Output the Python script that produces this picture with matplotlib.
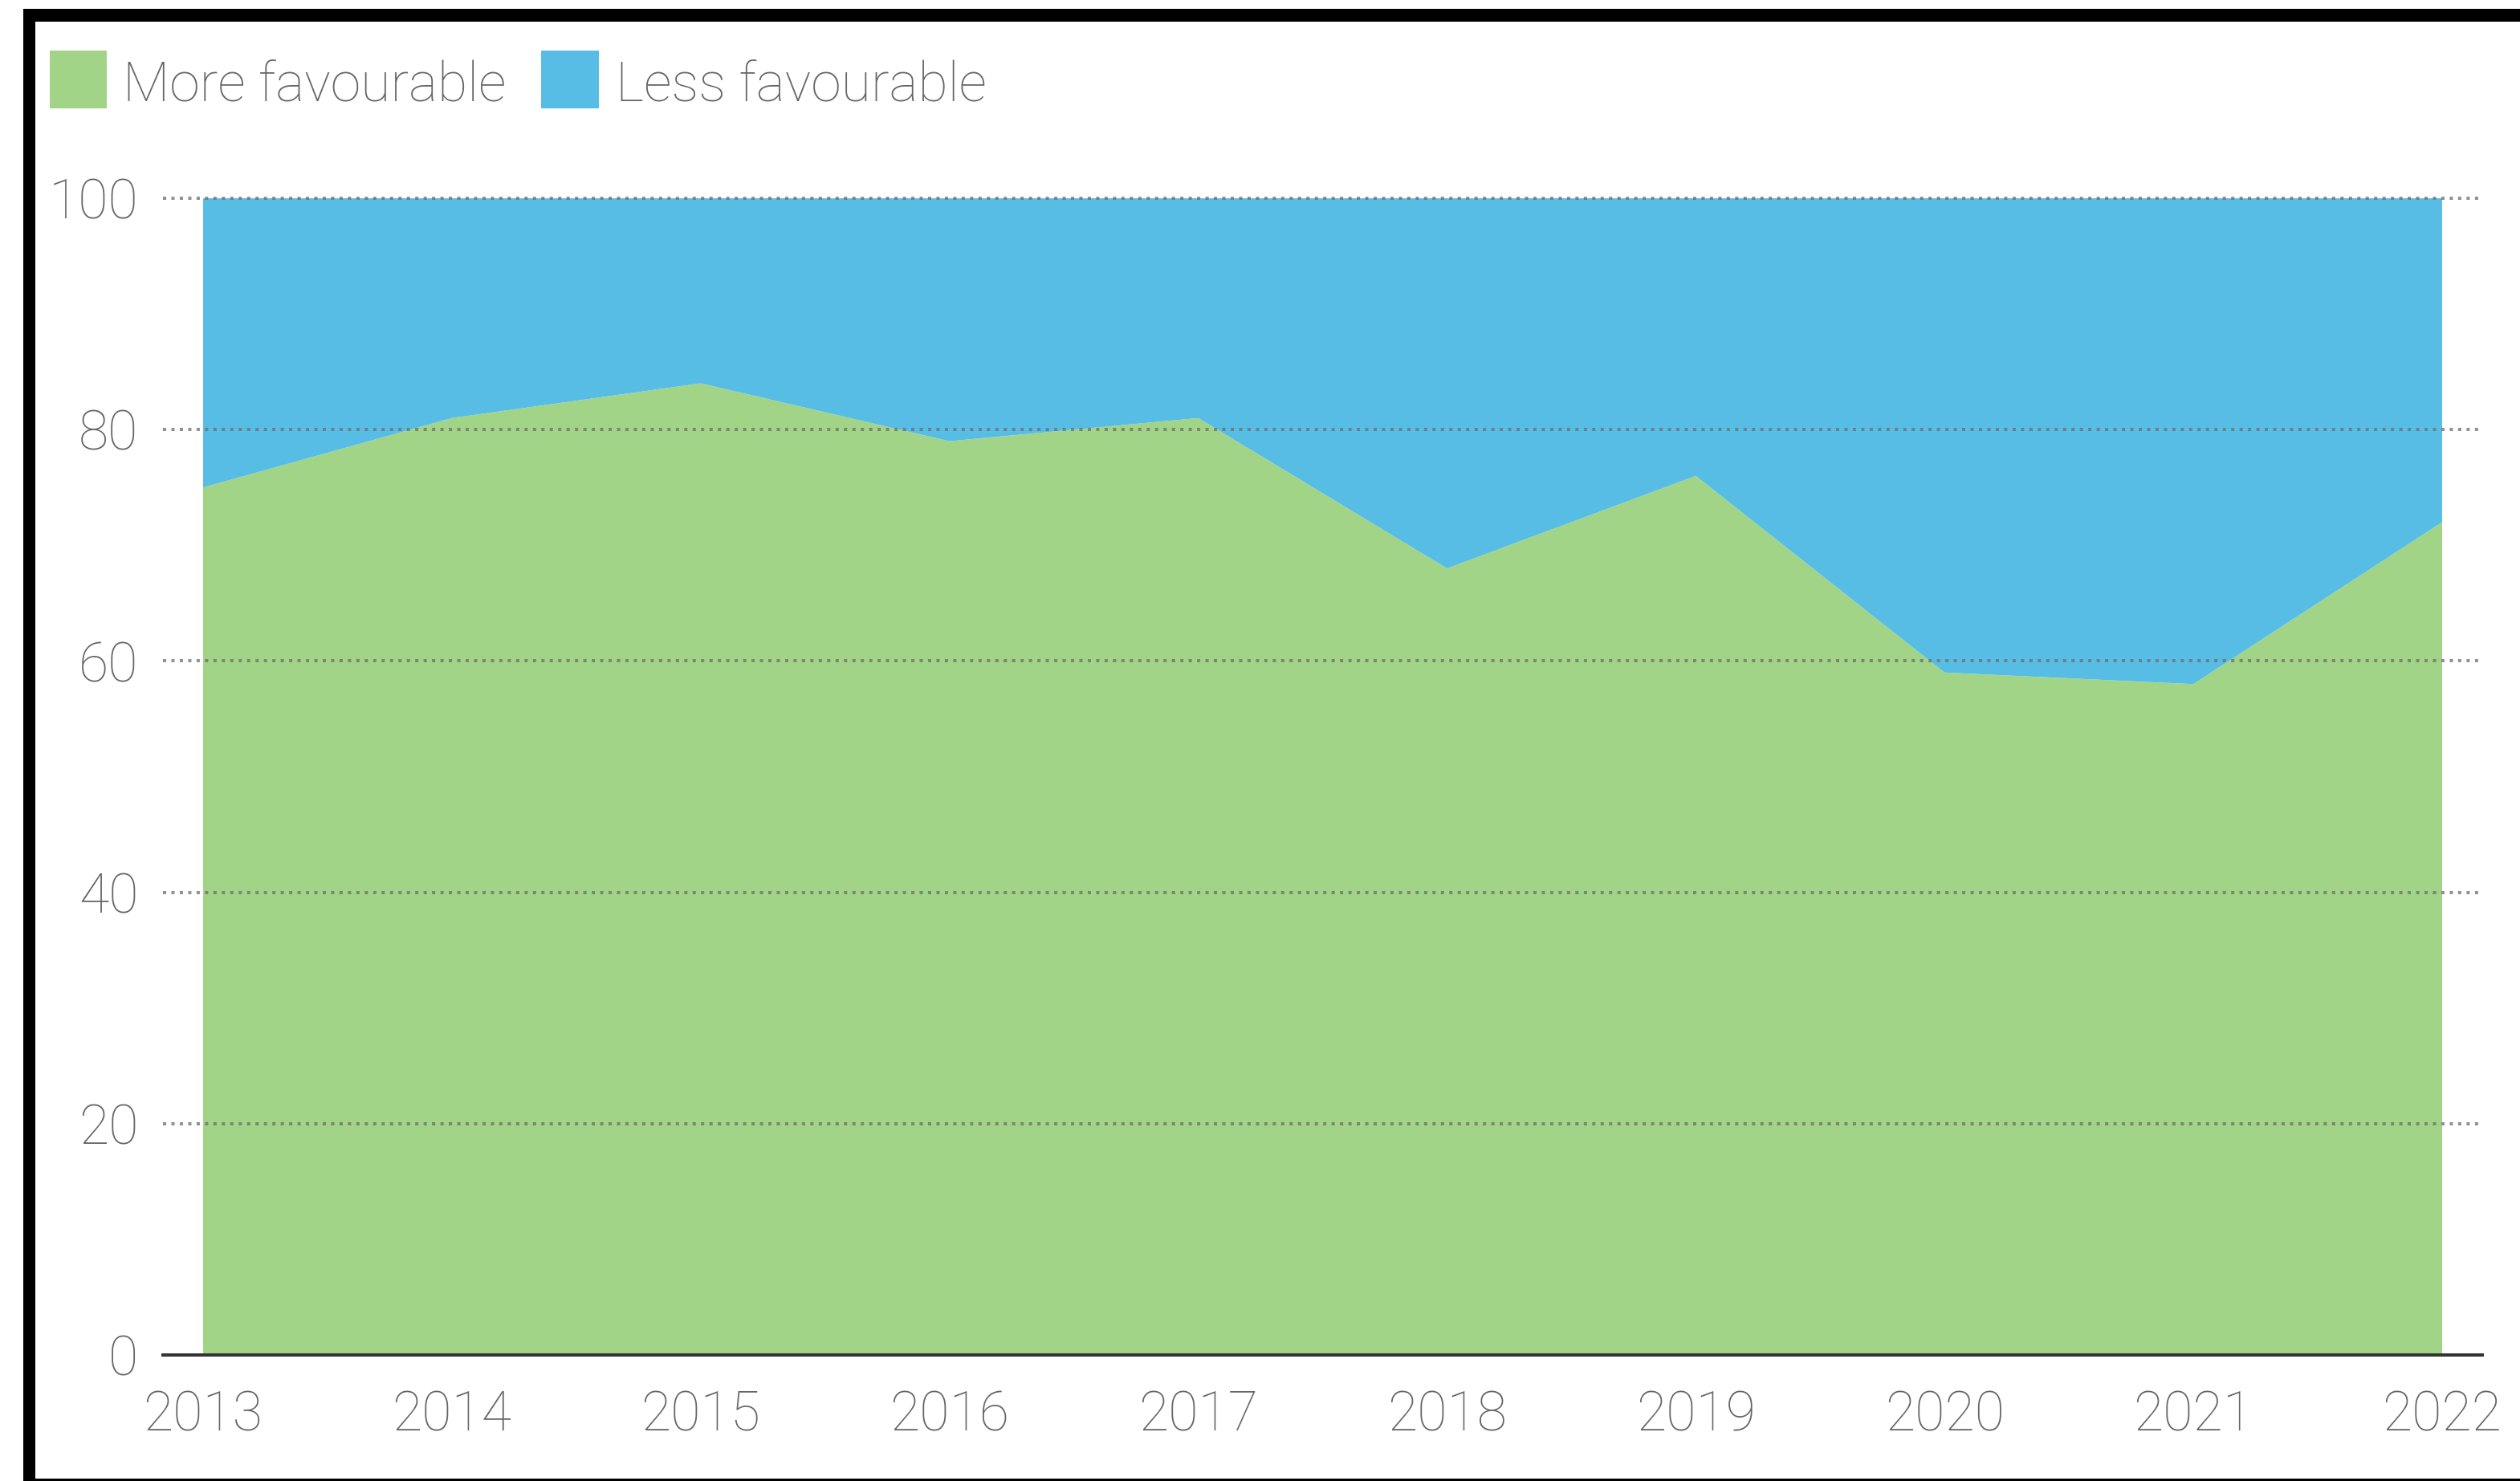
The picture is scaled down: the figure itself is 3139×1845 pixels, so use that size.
import matplotlib
matplotlib.use('Agg')
import matplotlib.pyplot as plt
from matplotlib.patches import Rectangle

# ---- data ----
years = [2013, 2014, 2015, 2016, 2017, 2018, 2019, 2020, 2021, 2022]
more_favourable = [75, 81, 84, 79, 81, 68, 76, 59, 58, 72]
less_favourable = [100 - m for m in more_favourable]
series_labels = ['More favourable', 'Less favourable']
series_colors = ['#a2d487', '#58bde5']
yticks = [0, 20, 40, 60, 80, 100]

W, H, DPI = 3139, 1845, 100
FONT = ['Roboto', 'DejaVu Sans']
WEIGHT = 'light'
TXT = '#666666'
FS = 49

def fx(px):
    return px / W

def fy(py):
    return 1 - py / H

fig = plt.figure(figsize=(W / DPI, H / DPI), dpi=DPI)
fig.patch.set_facecolor('white')

ax_l, ax_r, ax_t, ax_b = 203, 3092, 247, 1688
x_first, x_last = 253, 3042
ax = fig.add_axes([fx(ax_l), fy(ax_b), (ax_r - ax_l) / W, (ax_b - ax_t) / H])
ax.stackplot(years, more_favourable, less_favourable, colors=series_colors,
             linewidth=0, zorder=1)
step = (x_last - x_first) / (len(years) - 1)
ax.set_xlim(years[0] - (x_first - ax_l) / step, years[-1] + (ax_r - x_last) / step)
ax.set_ylim(0, 100)

for y in yticks[1:]:
    ax.axhline(y, color='#6e6e6e', alpha=0.75, lw=2.9, ls=(0, (1.0, 1.6)),
               zorder=3, clip_on=False, dash_capstyle='butt')
ax.axhline(0, color='#333333', lw=2.9, zorder=4, clip_on=False)

for s in ax.spines.values():
    s.set_visible(False)
ax.set_xticks(years)
ax.set_xticklabels([str(y) for y in years])
ax.set_yticks(yticks)
ax.set_yticklabels([str(y) for y in yticks])
ax.tick_params(length=0, labelsize=FS, labelcolor=TXT)
ax.tick_params(axis='y', pad=22)
ax.tick_params(axis='x', pad=31)
for lab in ax.get_xticklabels() + ax.get_yticklabels():
    lab.set_family(FONT)
    lab.set_fontweight(WEIGHT)
ax.set_facecolor('white')

# legend (manual)
leg_items = [(62, 133, 153), (674, 746, 767)]
for (x0, x1, tx), lab, col in zip(leg_items, series_labels, series_colors):
    fig.add_artist(Rectangle((fx(x0), fy(135)), (x1 - x0) / W, (135 - 63) / H,
                             transform=fig.transFigure, color=col, lw=0))
    fig.text(fx(tx), fy(125), lab, fontsize=FS, color=TXT, family=FONT,
             fontweight=WEIGHT, ha='left', va='baseline')

# black frame
fig.add_artist(Rectangle((fx(29), fy(27)), 1 - fx(29), 16 / H,
                         transform=fig.transFigure, color='black', lw=0))
fig.add_artist(Rectangle((fx(29), 0), 15 / W, fy(11),
                         transform=fig.transFigure, color='black', lw=0))
fig.add_artist(Rectangle((fx(29), 0), 1 - fx(29), 3 / H,
                         transform=fig.transFigure, color='black', lw=0))

fig.savefig('out.png', dpi=DPI, facecolor='white')
